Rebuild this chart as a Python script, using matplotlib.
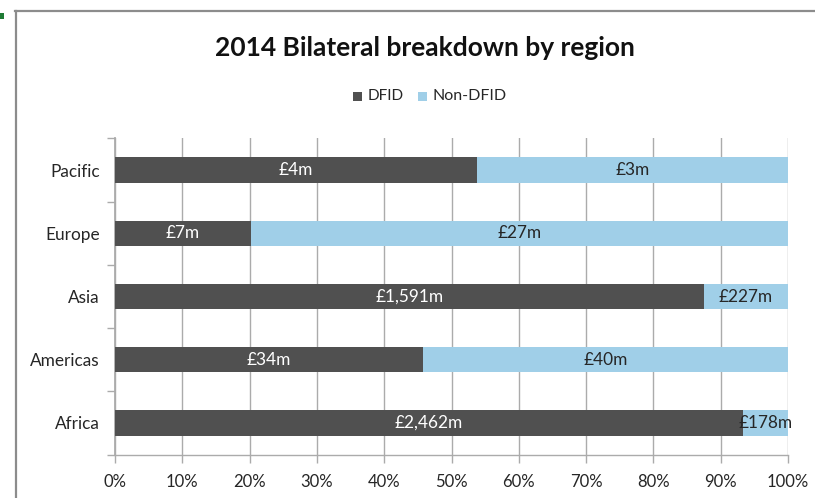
import matplotlib
matplotlib.use("Agg")
import matplotlib.pyplot as plt
from matplotlib.patches import Rectangle
from matplotlib.lines import Line2D

plt.rcParams['font.family'] = ['Lato', 'DejaVu Sans']

regions = ["Africa", "Americas", "Asia", "Europe", "Pacific"]
# shares, the labels are rounded so they don't give these
dfid_share = [93.3, 45.7, 87.5, 20.2, 53.8]
non_dfid_share = [6.7, 54.3, 12.5, 79.8, 46.2]
dfid_labels = ["£2,462m", "£34m", "£1,591m", "£7m", "£4m"]
non_dfid_labels = ["£178m", "£40m", "£227m", "£27m", "£3m"]
x_ticks = [0, 10, 20, 30, 40, 50, 60, 70, 80, 90, 100]

W, H = 815, 498
dark = "#505050"
light = "#A0CFE8"
grid = "#ABABAB"
txt = "#262626"

fig = plt.figure(figsize=(W / 100, H / 100), dpi=100)
fig.patch.set_facecolor("white")

# chart frame, only left and top are inside the crop
fig.add_artist(Line2D([15.5 / W, 15.5 / W], [0, 1 - 11 / H], color="#8C8C8C", lw=1.6))
fig.add_artist(Line2D([15 / W, 1], [1 - 11 / H, 1 - 11 / H], color="#8C8C8C", lw=1.6))
# bit of the neighbouring icon in the corner
fig.add_artist(Rectangle((0, 1 - 19 / H), 4 / W, 6 / H, color="#1E7B34", lw=0))

ax = fig.add_axes([115 / W, 1 - 454.5 / H, (788 - 115) / W, (454.5 - 138.5) / H])
ypos = list(range(len(regions)))
ax.barh(ypos, dfid_share, height=0.40, color=dark, zorder=3)
ax.barh(ypos, non_dfid_share, left=dfid_share, height=0.40, color=light, zorder=3)

ax.set_xlim(0, 100)
ax.set_ylim(-0.5, 4.5)
ax.set_xticks(x_ticks)
ax.set_xticklabels([f"{v}%" for v in x_ticks], fontsize=12, color=txt)
ax.set_yticks(ypos)
ax.set_yticklabels(regions, fontsize=12.4, color=txt)
ax.tick_params(axis="y", which="major", length=0, pad=11)
ax.set_yticks([i - 0.5 for i in range(len(regions) + 1)], minor=True)
ax.tick_params(axis="y", which="minor", length=6, color=grid, width=1)
ax.tick_params(axis="x", length=6, color=grid, width=1, pad=8)
ax.grid(axis="x", color=grid, lw=1, zorder=0)
ax.set_axisbelow(True)
for s in ["top", "right"]:
    ax.spines[s].set_visible(False)
for s in ["left", "bottom"]:
    ax.spines[s].set_color(grid)
    ax.spines[s].set_linewidth(1)
ax.spines["left"].set_linewidth(1.3)

for y, d, n, dl, nl in zip(ypos, dfid_share, non_dfid_share, dfid_labels, non_dfid_labels):
    ax.text(d / 2, y, dl, ha="center", va="center", fontsize=12.4, color="white", zorder=4)
    ax.text(d + n / 2, y, nl, ha="center", va="center", fontsize=12.4, color=txt, zorder=4, clip_on=False)

fig.text(425 / W, 1 - 48 / H, "2014 Bilateral breakdown by region", ha="center", va="center",
         fontsize=19, fontweight="bold", color="#111111")

# legend
fig.add_artist(Rectangle((353 / W, 1 - 101 / H), 9 / W, 9 / H, color=dark, lw=0))
fig.text(368 / W, 1 - 96 / H, "DFID", ha="left", va="center", fontsize=11, color=txt)
fig.add_artist(Rectangle((418 / W, 1 - 101 / H), 9 / W, 9 / H, color=light, lw=0))
fig.text(432 / W, 1 - 96 / H, "Non-DFID", ha="left", va="center", fontsize=11.5, color=txt)

fig.savefig("out.png", dpi=100)
